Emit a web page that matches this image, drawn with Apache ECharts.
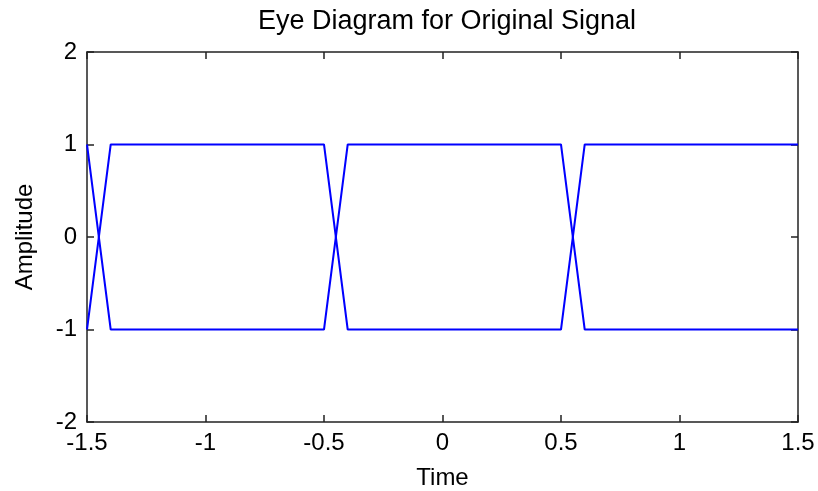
<!DOCTYPE html>
<html>
<head>
<meta charset="utf-8">
<script src="https://cdn.jsdelivr.net/npm/echarts@6/dist/echarts.min.js"></script>
<style>
  html, body { margin: 0; padding: 0; background: #fff; }
  #chart1 { width: 818px; height: 491px; }
</style>
</head>
<body>
<div id="chart1"></div>
<script>
// 眼图数据：两条轨迹 (时间, 幅度)
var traceA_x = [-1.5, -1.4, -0.5, -0.4, 0.5, 0.6, 1.5];
var traceA_y = [1, -1, -1, 1, 1, -1, -1];
var traceB_x = [-1.5, -1.4, -0.5, -0.4, 0.5, 0.6, 1.5];
var traceB_y = [-1, 1, 1, -1, -1, 1, 1];
var xTicks = [-1.5, -1, -0.5, 0, 0.5, 1, 1.5];
var yTicks = [-2, -1, 0, 1, 2];

function pairs(xs, ys) {
    return xs.map(function (x, i) { return [x, ys[i]]; });
}

var font = 'Liberation Sans, Arial, sans-serif';
var axisLine = { show: true, onZero: false, lineStyle: { color: '#222', width: 1.5 } };
var tick = { show: true, inside: true, length: 7, lineStyle: { color: '#222', width: 1.5 } };

option = {
    animation: false,
    title: {
        text: 'Eye Diagram for Original Signal',
        left: 442,
        textAlign: 'center',
        top: 3,
        textStyle: { color: '#000', fontSize: 27, fontWeight: 'normal', fontFamily: font }
    },
    grid: { left: 87, top: 52, right: 20, bottom: 69, outerBoundsMode: 'none', containLabel: false },
    xAxis: [{
        type: 'value',
        min: xTicks[0],
        max: xTicks[xTicks.length - 1],
        interval: 0.5,
        position: 'bottom',
        name: 'Time',
        nameLocation: 'middle',
        nameGap: 44,
        nameTextStyle: { color: '#000', fontSize: 24, fontFamily: font },
        axisLine: axisLine,
        axisTick: tick,
        splitLine: { show: false },
        axisLabel: { color: '#000', fontSize: 24, fontFamily: font, margin: 9,
            formatter: function (v) { return String(v); } }
    }, {
        type: 'value',
        min: xTicks[0],
        max: xTicks[xTicks.length - 1],
        interval: 0.5,
        position: 'top',
        axisLine: axisLine,
        axisTick: tick,
        splitLine: { show: false },
        axisLabel: { show: false }
    }],
    yAxis: [{
        type: 'value',
        min: yTicks[0],
        max: yTicks[yTicks.length - 1],
        interval: 1,
        position: 'left',
        name: 'Amplitude',
        nameLocation: 'middle',
        nameGap: 50,
        nameTextStyle: { color: '#000', fontSize: 24, fontFamily: font },
        axisLine: axisLine,
        axisTick: tick,
        splitLine: { show: false },
        axisLabel: { color: '#000', fontSize: 24, fontFamily: font, margin: 10 }
    }, {
        type: 'value',
        min: yTicks[0],
        max: yTicks[yTicks.length - 1],
        interval: 1,
        position: 'right',
        axisLine: axisLine,
        axisTick: tick,
        splitLine: { show: false },
        axisLabel: { show: false }
    }],
    series: [{
        type: 'line',
        data: pairs(traceA_x, traceA_y),
        symbol: 'none',
        lineStyle: { color: '#0000ff', width: 2 },
        z: 1
    }, {
        type: 'line',
        data: pairs(traceB_x, traceB_y),
        symbol: 'none',
        lineStyle: { color: '#0000ff', width: 2 },
        z: 1
    }]
};
var myChart = echarts.init(document.getElementById('chart1'));
myChart.setOption(option);
</script>
</body>
</html>
